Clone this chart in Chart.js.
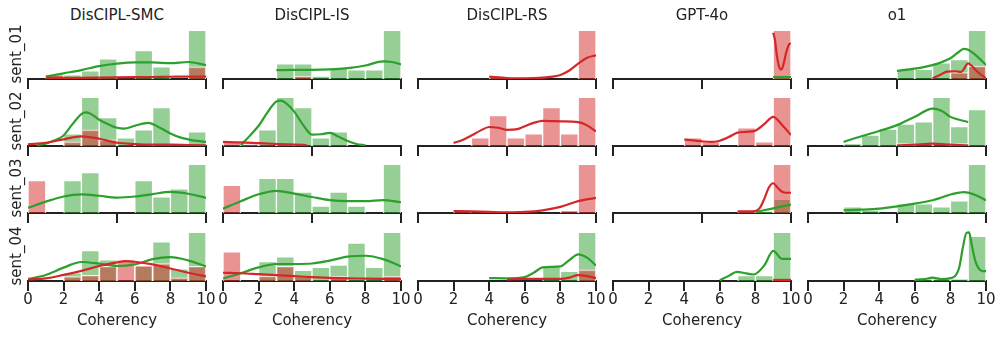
<!DOCTYPE html>
<html>
<head>
<meta charset="utf-8">
<script src="https://cdn.jsdelivr.net/npm/chart.js@4.4.0/dist/chart.umd.min.js"></script>
<style>
  body { margin: 0; background: #fff; width: 1003px; height: 337px; position: relative; overflow: hidden;
         font-family: "DejaVu Sans", sans-serif; color: #222; }
  canvas { position: absolute; }
  .lbl { position: absolute; z-index: 20; font-size: 15px; line-height: 15px; white-space: nowrap; transform: translate(-50%, -50%); }
  .rot { transform: translate(-50%, -50%) rotate(-90deg); }
</style>
</head>
<body>
<script>
const methods = ["DisCIPL-SMC", "DisCIPL-IS", "DisCIPL-RS", "GPT-4o", "o1"];
const sentences = ["sent_01", "sent_02", "sent_03", "sent_04"];
const binEdges = [0, 1, 2, 3, 4, 5, 6, 7, 8, 9, 10];
const none = [0, 0, 0, 0, 0, 0, 0, 0, 0, 0];

// histogram counts per coherency bin, one row per sentence
// green = valid samples, red = invalid samples
const smcValid = [
  [0, 1, 1, 2, 5, 0, 7, 3, 0, 12],
  [0, 0, 3, 12, 7, 2, 4, 9.5, 0, 3.5],
  [0, 0, 4, 5, 0, 0, 4, 2, 3, 6],
  [0, 0, 2, 7.5, 5.2, 0, 3.6, 9.7, 3, 12]
];
const smcInvalid = [
  [0, 1, 0, 0, 0, 0, 0, 0, 0, 3],
  [0, 0, 1, 4, 1.5, 0, 0, 0, 0, 0],
  [4, 0, 0, 0, 0, 0, 0, 0, 0, 0],
  [0, 0, 1.1, 1.4, 3.6, 5.2, 3.8, 4.3, 0.8, 3.6]
];
const isValid = [
  [0, 0, 0, 5, 5, 1, 3.5, 3, 3, 16],
  [0, 0, 4, 12, 9.5, 2, 3.5, 0, 0, 0],
  [0, 0, 5, 5, 3, 1, 3, 1, 0, 7],
  [0, 0, 4, 5, 2.2, 2.8, 3.3, 7.8, 2.8, 10]
];
const isInvalid = [
  [0, 0, 0, 0, 1, 0, 0, 0, 0, 0],
  [1, 0.5, 0, 0.5, 0, 0, 0, 0, 0, 0],
  [4, 0, 0, 0, 0, 0, 0, 0, 0, 0],
  [6, 0, 1, 3, 1, 0, 1, 0, 0, 1]
];
const rsValid = [none, none, none, [0, 0, 0, 0, 0, 0, 0, 3, 2, 10]];
const rsInvalid = [
  [0, 0, 0, 0, 1, 0, 0, 0, 0, 24],
  [0, 0, 0, 2, 7.5, 2, 3, 9.5, 3, 12],
  [0, 0, 1, 0, 0, 0, 0, 0, 1, 18],
  [0, 0, 0, 0, 0, 0, 0, 0, 0, 2.3]
];
const gptValid = [
  [0, 0, 0, 0, 0, 0, 0, 0, 0, 1],
  none,
  [0, 0, 0, 0, 0, 0, 0, 0, 1, 6.7],
  [0, 0, 0, 0, 0, 0, 0, 1, 1, 9]
];
const gptInvalid = [
  [0, 0, 0, 0, 0, 0, 0, 0, 0, 30],
  [0, 0, 0, 0, 2, 1, 0, 4.5, 1, 12],
  [0, 0, 0, 0, 0, 0, 0, 1, 0, 24],
  none
];
const o1Valid = [
  [0, 0, 0, 0, 0, 3, 3, 5, 6, 15],
  [0, 0, 1, 4.5, 7, 9, 10, 20, 8, 15],
  [0, 0, 2, 1, 0, 3, 3, 2, 4, 16],
  [0, 0, 0, 0, 0, 0, 1, 1, 1, 20]
];
const o1Invalid = [
  [0, 0, 0, 0, 0, 0, 0, 0, 2, 4],
  [0, 0, 0, 0, 0, 1, 0, 0, 1, 0],
  none,
  none
];

// kde curves, [coherency, count]
const smcValidKde = [
  [[1, 0.6], [2, 1.4], [3, 2.2], [4, 3.2], [5, 3.8], [6, 4.1], [7, 4.1], [8, 3.9], [9, 4.2], [10, 3.4]],
  [[0.5, 0.2], [1, 0.6], [1.5, 1.4], [2, 2.6], [2.5, 5.4], [3, 7.9], [3.25, 8.3], [3.5, 8.0], [4, 6.5], [4.5, 5.4], [5, 4.5], [5.4, 4.3], [6, 5.0], [6.75, 5.7], [7.5, 4.3], [8, 3.1], [8.5, 2.2], [9, 1.65], [9.5, 1.25], [10, 1.0]],
  [[0, 0.64], [1, 1.4], [2, 2.04], [3, 2.3], [4, 2.13], [5, 1.9], [6, 2.04], [7, 2.34], [8, 2.6], [9, 2.38], [10, 1.87]],
  [[0, 0.5], [1, 1.5], [2, 3.3], [3, 4.7], [4, 4.3], [5, 3.7], [6, 4.1], [7, 5.4], [8, 5.9], [9, 5.1], [10, 3.6]]
];
const smcInvalidKde = [
  [[1, 0.3], [2, 0.3], [3, 0.3], [4, 0.35], [5, 0.4], [6, 0.45], [7, 0.5], [8, 0.55], [9, 0.6], [10, 0.6]],
  [[0, 0.4], [1, 0.8], [2, 1.65], [3, 2.4], [4, 1.8], [5, 0.8], [6, 0.5], [7, 0.35], [8, 0.33], [9, 0.25], [10, 0.17]],
  [],
  [[0, 0.4], [1, 0.65], [2, 1.5], [3, 2.5], [4, 3.7], [5, 4.6], [5.5, 4.9], [6, 4.75], [7, 4.1], [8, 3.1], [9, 2.05], [10, 1.15]]
];
const isValidKde = [
  [[3, 2.9], [4, 3.0], [5, 3.0], [6, 3.15], [7, 3.6], [8, 4.45], [9, 5.8], [9.5, 5.6], [10, 4.8]],
  [[1, 0.2], [1.5, 2.5], [2, 5], [2.5, 8.3], [3, 11], [3.25, 11.2], [3.5, 10.7], [4, 8.5], [4.5, 5.2], [5, 2.8], [5.5, 2.9], [6, 3.25], [6.5, 2.3], [7, 1.25], [7.5, 0.5], [8, 0.17]],
  [[0, 0.63], [1, 1.7], [2, 2.7], [3, 3.2], [4, 2.8], [5, 2.3], [6, 1.85], [7, 1.7], [8, 1.7], [9, 1.85], [10, 1.55]],
  [[0, 0.5], [1, 1.6], [2, 2.8], [3, 3.5], [4, 3.5], [5, 3.6], [6, 4.2], [7, 5.0], [8, 5.2], [9, 4.5], [10, 3.0]]
];
const isInvalidKde = [
  [],
  [[0, 1.0], [1, 0.9], [2, 0.7], [3, 0.5], [4, 0.35], [4.7, 0.25]],
  [],
  [[0, 1.7], [1, 1.6], [2, 1.4], [3, 1.2], [4, 1.0], [5, 0.8], [6, 0.65], [7, 0.55], [8, 0.5], [9, 0.45], [10, 0.4]]
];
const rsValidKde = [
  [], [], [],
  [[4, 0.6], [5, 0.55], [6, 0.8], [6.5, 1.7], [7, 2.8], [7.5, 2.9], [8, 3.0], [8.5, 4.3], [9, 5.5], [9.5, 4.8], [10, 3.2]]
];
const rsInvalidKde = [
  [[4, 1.2], [5, 0.5], [6, 0.35], [7, 0.7], [8, 2.0], [8.5, 4.2], [9, 7.6], [9.5, 10.5], [10, 11.7]],
  [[2, 0.75], [2.5, 1.5], [3, 2.6], [3.5, 3.8], [4, 4.7], [4.5, 4.5], [5, 4.0], [5.5, 4.1], [6, 4.9], [6.5, 5.7], [7, 6.2], [8, 6.1], [9, 5.9], [9.5, 5.1], [10, 3.6]],
  [[2, 0.75], [3, 0.6], [4, 0.4], [5, 0.25], [6, 0.4], [7, 1.0], [8, 2.25], [9, 4.4], [10, 5.6]],
  [[5, 0.3], [6, 0.45], [7, 0.45], [8, 0.45], [8.5, 0.7], [9, 1.2], [9.5, 1.0], [10, 0.6]]
];
const gptValidKde = [
  [[9, 1.2], [10, 1.2]],
  [],
  [[8, 0.5], [9, 2.3], [10, 4.2]],
  [[6, 0.13], [6.5, 0.95], [6.95, 1.7], [7.5, 1.4], [7.9, 1.2], [8.5, 2.9], [9, 5.6], [9.5, 4.1], [10, 4.1]]
];
const gptInvalidKde = [
  [[9, 28.5], [9.1, 24], [9.2, 15], [9.3, 9], [9.4, 6], [9.5, 6.5], [9.6, 10], [9.7, 15], [9.8, 19], [9.9, 21.5], [10, 22]],
  [[4, 1.6], [4.5, 1.4], [5, 1.15], [5.5, 1.0], [6, 1.3], [6.5, 2.2], [7, 3.3], [7.5, 3.5], [8, 3.8], [8.5, 5.4], [9, 7.2], [9.5, 5.2], [10, 2.7]],
  [[7, 0.8], [7.5, 0.8], [8, 1.0], [8.25, 2.5], [8.5, 7], [8.75, 12.5], [9, 14.7], [9.25, 12.5], [9.5, 10.5], [9.75, 10], [10, 10]],
  [[9, 0.2], [10, 0.2]]
];
const o1ValidKde = [
  [[5, 2.5], [6, 3.2], [7, 4.3], [7.5, 5.2], [8, 6.4], [8.5, 8.5], [8.75, 9.3], [9, 9.0], [9.5, 7.0], [10, 4.3]],
  [[2, 1.65], [3, 4.0], [4, 6.2], [5, 8.6], [5.5, 10.3], [6, 12.0], [7, 15.4], [7.5, 14.5], [8, 12.0], [8.5, 10.8], [9, 9.9]],
  [[2, 0.9], [3, 1.1], [4, 1.45], [5, 2.2], [6, 3.1], [7, 4.2], [7.5, 5.1], [8, 6.1], [8.5, 6.7], [8.75, 6.9], [9, 6.7], [9.5, 5.7], [10, 4.2]],
  [[6, 0.6], [6.5, 0.8], [7, 1.5], [7.5, 0.8], [8, 1.3], [8.3, 2.5], [8.5, 6.2], [8.7, 15], [8.9, 21.6], [9.05, 21.8], [9.2, 16.2], [9.4, 9], [9.6, 5.5], [9.8, 4.4], [10, 4.4]]
];
const o1InvalidKde = [
  [[7, 0.2], [7.5, 1.5], [7.8, 2.3], [8.3, 2.4], [8.6, 2.2], [9, 4.8], [9.25, 3.8], [9.5, 2.3], [10, 0.2]],
  [[5, 0.15], [6, 0.55], [7, 0.95], [8, 0.55], [9, 0.15]],
  [],
  []
];

const validHist = [smcValid, isValid, rsValid, gptValid, o1Valid];
const invalidHist = [smcInvalid, isInvalid, rsInvalid, gptInvalid, o1Invalid];
const validKde = [smcValidKde, isValidKde, rsValidKde, gptValidKde, o1ValidKde];
const invalidKde = [smcInvalidKde, isInvalidKde, rsInvalidKde, gptInvalidKde, o1InvalidKde];

const GREEN = "#2ca02c", RED = "#d62728";
const GREEN_FILL = "rgba(44,160,44,0.5)", RED_FILL = "rgba(214,39,40,0.5)";
const AXIS = "#222";

// layout
const plotLefts = [28, 223, 418, 613, 808];
const axisRows = [79, 146, 213, 281];
const plotW = 178, plotH = 51, padX = 14, padTop = 4;

const binCenters = binEdges.slice(0, -1).map((e, i) => (e + binEdges[i + 1]) / 2);

function addText(txt, x, y, rotate) {
  const d = document.createElement("div");
  d.className = rotate ? "lbl rot" : "lbl";
  d.textContent = txt;
  d.style.left = x + "px";
  d.style.top = y + "px";
  document.body.appendChild(d);
}

function barSet(counts, fill, order) {
  return {
    type: "bar",
    data: binCenters.map((x, i) => ({ x: x, y: counts[i] })),
    backgroundColor: fill,
    borderColor: "rgba(255,255,255,0.85)",
    borderWidth: 1,
    grouped: false,
    barPercentage: 1,
    categoryPercentage: 1,
    order: order,
  };
}

function kdeSet(points, color, order) {
  return {
    type: "line",
    data: points.map(p => ({ x: p[0], y: p[1] })),
    borderColor: color,
    borderWidth: 2.2,
    pointRadius: 0,
    fill: false,
    cubicInterpolationMode: "monotone",
    order: order,
  };
}

function makePanel(c, r) {
  const last = r === sentences.length - 1;
  const bottomH = last ? 30 : 12;
  const cv = document.createElement("canvas");
  cv.width = plotW + 2 * padX;
  cv.height = padTop + plotH + bottomH;
  cv.style.left = (plotLefts[c] - padX) + "px";
  cv.style.top = (axisRows[r] - plotH - padTop) + "px";
  cv.style.zIndex = String(10 - r);
  document.body.appendChild(cv);

  const v = validHist[c][r], inv = invalidHist[c][r];
  const vk = validKde[c][r], ik = invalidKde[c][r];
  const peak = Math.max(...v, ...inv, ...vk.map(p => p[1]), ...ik.map(p => p[1]));

  new Chart(cv, {
    type: "bar",
    data: {
      datasets: [
        kdeSet(ik, RED, 0),
        kdeSet(vk, GREEN, 1),
        barSet(inv, RED_FILL, 2),
        barSet(v, GREEN_FILL, 3),
      ],
    },
    options: {
      responsive: false,
      animation: false,
      devicePixelRatio: 1,
      layout: { padding: { left: padX, right: padX, top: padTop, bottom: 0 } },
      plugins: { legend: { display: false }, tooltip: { enabled: false } },
      scales: {
        x: {
          type: "linear",
          min: 0,
          max: 10,
          offset: false,
          afterFit: (s) => { s.height = bottomH; },
          grid: { display: true, offset: false, drawOnChartArea: false, drawTicks: true, tickLength: 10, lineWidth: 2, color: AXIS },
          border: { display: true, width: 2, color: AXIS },
          ticks: {
            stepSize: last ? 2 : 5,
            padding: 0,
            autoSkip: false,
            maxRotation: 0,
            color: AXIS,
            font: { family: "DejaVu Sans", size: 15 },
            // inner rows keep their tick marks but show no numbers
            callback: (val) => (last ? String(val) : ""),
          },
        },
        y: { display: false, min: 0, max: peak * 1.05 },
      },
    },
  });
}

methods.forEach((m, c) => {
  addText(m, plotLefts[c] + plotW / 2, 15);
  addText("Coherency", plotLefts[c] + plotW / 2, 320);
  sentences.forEach((s, r) => makePanel(c, r));
});
sentences.forEach((s, r) => addText(s, 16, axisRows[r] - plotH / 2, true));
</script>
</body>
</html>
